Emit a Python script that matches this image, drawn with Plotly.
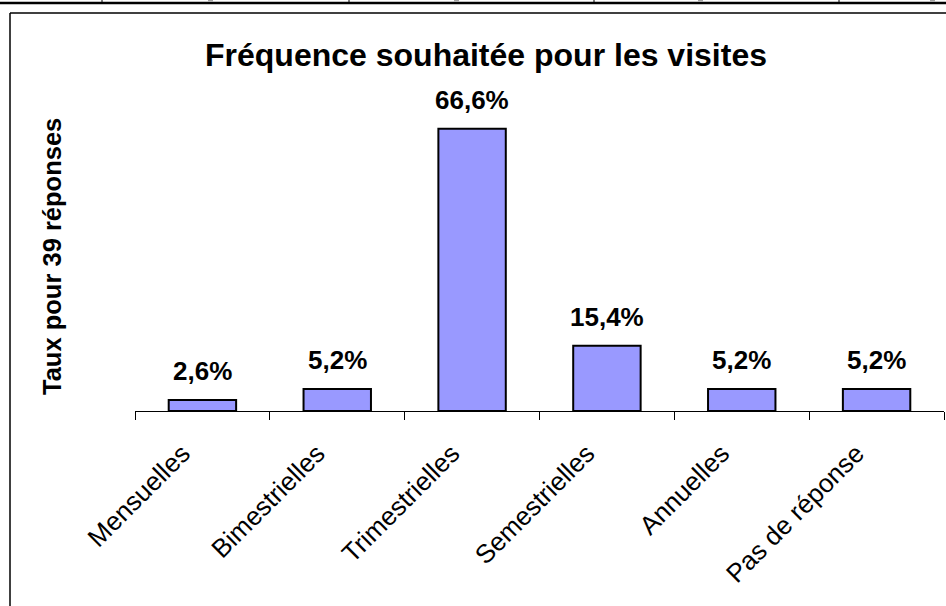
import plotly.graph_objects as go

categories = ["Mensuelles", "Bimestrielles", "Trimestrielles", "Semestrielles", "Annuelles", "Pas de réponse"]
values = [2.6, 5.2, 66.6, 15.4, 5.2, 5.2]
title_text = "Fréquence souhaitée pour les visites"
ytitle_text = "Taux pour 39 réponses"

W, H = 946, 606
ML, MR, MT, MB = 135, 2, 100, 195
PW, PH = W - ML - MR, H - MT - MB
FONT = "Liberation Sans, Arial, sans-serif"

def px(x):
    return (x - ML) / PW

def py(y):
    return (H - MB - y) / PH

fig = go.Figure()
fig.add_trace(go.Bar(
    x=categories, y=values, width=0.5,
    marker=dict(color="#9999FF", line=dict(color="#000000", width=2)),
    hoverinfo="skip",
))

for c, v in zip(categories, values):
    fig.add_annotation(
        x=c, y=v, xref="x", yref="y", yanchor="bottom", yshift=12,
        text="<b>" + f"{v:.1f}".replace(".", ",") + "%</b>", showarrow=False,
        font=dict(family=FONT, size=26, color="#000000"),
    )

fig.add_annotation(
    x=px(52), y=py(257), xref="paper", yref="paper", xanchor="center", yanchor="middle", textangle=-90,
    text="<b>" + ytitle_text + "</b>", showarrow=False,
    font=dict(family=FONT, size=25.5, color="#000000"),
)

shapes = []
# chart frame
shapes.append(dict(type="line", xref="paper", yref="paper", x0=px(10), x1=px(W + 5), y0=py(13), y1=py(13),
                   line=dict(color="#404040", width=2)))
shapes.append(dict(type="line", xref="paper", yref="paper", x0=px(10), x1=px(10), y0=py(13), y1=py(H + 5),
                   line=dict(color="#000000", width=1.5)))
# table fragment on top
shapes.append(dict(type="line", xref="paper", yref="paper", x0=px(-2), x1=px(W + 2), y0=py(3), y1=py(3),
                   line=dict(color="#000000", width=2.5)))
for xd in [102, 349, 594, 839]:
    shapes.append(dict(type="line", xref="paper", yref="paper", x0=px(xd), x1=px(xd), y0=py(-2), y1=py(3),
                       line=dict(color="#000000", width=1)))
for xg in [210, 456, 700, 932]:
    shapes.append(dict(type="rect", xref="paper", yref="paper", x0=px(xg - 2), x1=px(xg + 3), y0=py(-1), y1=py(1.5),
                       line=dict(width=0), fillcolor="#a0a0a0"))

fig.update_layout(
    width=W, height=H,
    margin=dict(l=ML, r=MR, t=MT, b=MB, pad=0),
    paper_bgcolor="#ffffff", plot_bgcolor="#ffffff",
    showlegend=False,
    separators=", ",
    title=dict(text="<b>" + title_text + "</b>", x=486 / W, xanchor="center", y=1 - 55 / H, yanchor="middle",
               font=dict(family=FONT, size=32, color="#000000")),
    xaxis=dict(type="category", showline=True, linecolor="#000000", linewidth=1,
               ticks="outside", tickson="boundaries", ticklen=8, tickcolor="#000000", tickwidth=1,
               tickangle=-45, tickfont=dict(family=FONT, size=26, color="#000000"),
               ticklabelstandoff=16, ticklabelshift=-20,
               showgrid=False, zeroline=False, range=[-0.5, 5.5]),
    yaxis=dict(range=[0, 73.4], showline=False, showticklabels=False, ticks="", showgrid=False, zeroline=False),
    shapes=shapes,
)

fig.write_html("out.html", config={"displayModeBar": False},
               post_script="document.body.style.margin='0';document.body.style.overflow='hidden';")
